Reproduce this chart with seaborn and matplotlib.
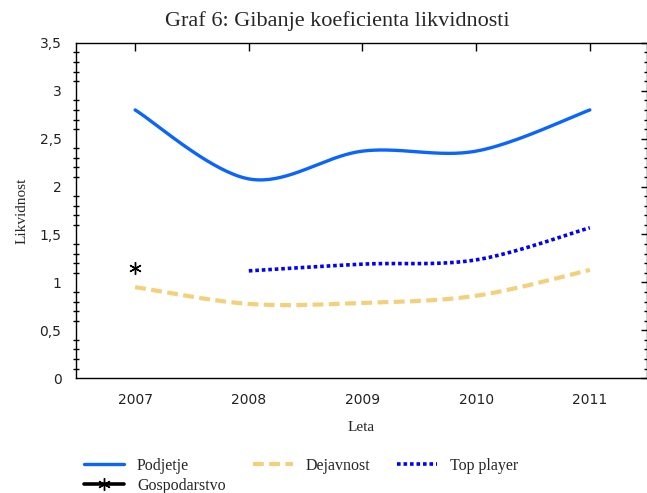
import numpy as np
import matplotlib
matplotlib.use("Agg")
import matplotlib.pyplot as plt
import matplotlib.ticker as mticker
import seaborn as sns

# Values
years = [2007, 2008, 2009, 2010, 2011]
podjetje = [2.80, 2.08, 2.37, 2.37, 2.80]
dejavnost = [0.95, 0.775, 0.785, 0.86, 1.13]
top_years = [2008, 2009, 2010, 2011]
top_player = [1.12, 1.19, 1.235, 1.57]
gosp_years = [2007]
gospodarstvo = [1.15]


# Excel-style smoothed line: Bezier segments through the data points (drawing only)
def smooth(xs, ys, n=40):
    pts = np.column_stack([xs, ys]).astype(float)
    p = np.vstack([pts[0], pts, pts[-1]])
    out = []
    for i in range(1, len(p) - 2):
        p0, p1, p2, p3 = p[i - 1], p[i], p[i + 1], p[i + 2]
        c1 = p1 + (p2 - p0) / 6
        c2 = p2 - (p3 - p1) / 6
        t = np.linspace(0, 1, n)[:, None]
        seg = (1 - t) ** 3 * p1 + 3 * (1 - t) ** 2 * t * c1 + 3 * (1 - t) * t ** 2 * c2 + t ** 3 * p2
        out.append(seg if i == 1 else seg[1:])
    out = np.vstack(out)
    return out[:, 0], out[:, 1]


sns.set_theme(style="white")
serif = ["Liberation Serif", "DejaVu Serif"]
plt.rcParams["font.family"] = ["DejaVu Sans"]

fig = plt.figure(figsize=(6.47, 4.93), dpi=100)
ax = fig.add_axes([0.1175, 0.233, 0.882, 0.68])

sx, sy = smooth(years, podjetje)
sns.lineplot(x=sx, y=sy, ax=ax, color="#0A64FF", lw=2.4, sort=False, estimator=None,
             label="Podjetje")
sx, sy = smooth(years, dejavnost)
sns.lineplot(x=sx, y=sy, ax=ax, color="#F5D07A", lw=3.0, sort=False, estimator=None,
             linestyle=(0, (2.6, 1.3)), label="Dejavnost")
sx, sy = smooth(top_years, top_player)
sns.lineplot(x=sx, y=sy, ax=ax, color="#0000FF", lw=2.6, sort=False, estimator=None,
             linestyle=(0, (1, 0.8)), label="Top player")
ax.plot(gosp_years, gospodarstvo, color="black", lw=2.6, linestyle="-",
        marker=(6, 2, 0), markersize=9, markeredgewidth=1.0, label="Gospodarstvo")

if ax.get_legend() is not None:
    ax.get_legend().remove()

ax.set_xlim(2006.48, 2011.5)
ax.set_ylim(0, 3.5)
ax.set_xticks(years)
ax.set_yticks(np.arange(0, 3.51, 0.5))
ax.yaxis.set_minor_locator(mticker.MultipleLocator(0.1))
ax.yaxis.set_major_formatter(mticker.FuncFormatter(lambda v, p: f"{v:g}".replace(".", ",")))

for s in ax.spines.values():
    s.set_color("black")
    s.set_linewidth(1.0)

ax.tick_params(axis="both", which="major", direction="inout", length=9, width=1,
               color="black", labelsize=10, labelcolor="#222222")
ax.tick_params(axis="y", which="minor", direction="inout", length=5, width=1,
               color="black", left=True, right=True)
ax.tick_params(axis="y", which="major", right=True)
ax.tick_params(axis="y", pad=6)
ax.tick_params(axis="x", pad=6)

# top ticks point inward only
top = ax.secondary_xaxis("top")
top.set_xticks(years)
top.tick_params(direction="in", length=6, width=1, color="black", labeltop=False)
top.spines["top"].set_visible(False)

ax.set_xlabel("Leta", family=serif, fontsize=11, labelpad=10)
ax.set_ylabel("Likvidnost", family=serif, fontsize=11, labelpad=8)
fig.text(0.522, 0.958, "Graf 6: Gibanje koeficienta likvidnosti", family=serif,
         fontsize=16, ha="center", va="center")

handles, labels = ax.get_legend_handles_labels()
order = [0, 3, 1, 2]
fig.legend([handles[i] for i in order], [labels[i] for i in order],
           loc="upper left", bbox_to_anchor=(0.118, 0.088), ncol=3, frameon=False,
           prop={"family": serif, "size": 11.5}, handlelength=2.5, handletextpad=0.8,
           columnspacing=1.7, borderpad=0, labelspacing=0.25)

fig.savefig("out.png", dpi=100)
